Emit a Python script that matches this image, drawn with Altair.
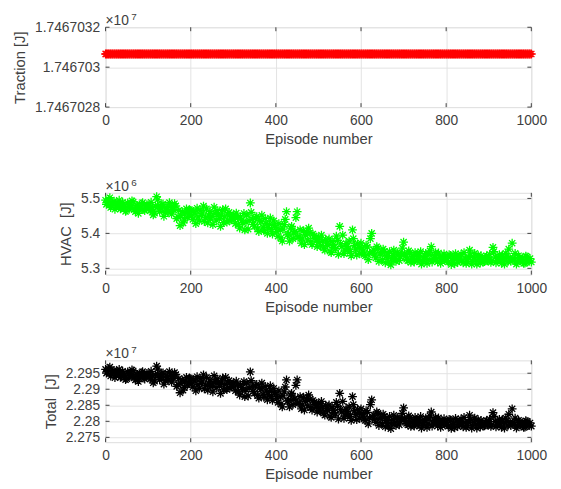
import altair as alt
import pandas as pd

# ---------------- data ----------------
episodes_a = list(range(0, 1001, 5))
episodes_b = list(range(2, 1000, 5))

# HVAC energy, units of 1e6 J, episodes 0,5,...,1000
hvac_a = [
    5.495, 5.488, 5.502, 5.480, 5.492, 5.476, 5.485, 5.470, 5.489, 5.478,
    5.466, 5.483, 5.474, 5.490, 5.462, 5.479, 5.471, 5.485, 5.468, 5.476,
    5.481, 5.465, 5.474, 5.458, 5.505, 5.477, 5.470, 5.484, 5.460, 5.472,
    5.488, 5.455, 5.468, 5.479, 5.447, 5.422, 5.462, 5.438, 5.470, 5.452,
    5.466, 5.440, 5.458, 5.472, 5.436, 5.452, 5.478, 5.445, 5.430, 5.462,
    5.449, 5.475, 5.438, 5.456, 5.420, 5.468, 5.447, 5.432, 5.460, 5.441,
    5.452, 5.428, 5.446, 5.415, 5.438, 5.457, 5.432, 5.412, 5.487, 5.440,
    5.421, 5.448, 5.405, 5.433, 5.418, 5.442, 5.400, 5.426, 5.411, 5.436,
    5.418, 5.392, 5.410, 5.378, 5.425, 5.462, 5.398, 5.415, 5.385, 5.405,
    5.462, 5.390, 5.372, 5.408, 5.395, 5.381, 5.402, 5.368, 5.393, 5.378,
    5.388, 5.365, 5.378, 5.352, 5.372, 5.384, 5.345, 5.368, 5.356, 5.380,
    5.420, 5.362, 5.342, 5.371, 5.355, 5.348, 5.410, 5.366, 5.338, 5.359,
    5.372, 5.350, 5.336, 5.361, 5.344, 5.400, 5.352, 5.330, 5.358, 5.341,
    5.325, 5.349, 5.335, 5.318, 5.310, 5.338, 5.328, 5.345, 5.322, 5.340,
    5.375, 5.335, 5.322, 5.344, 5.330, 5.318, 5.339, 5.326, 5.348, 5.321,
    5.335, 5.314, 5.340, 5.362, 5.328, 5.345, 5.319, 5.333, 5.324, 5.341,
    5.330, 5.318, 5.337, 5.322, 5.313, 5.334, 5.325, 5.340, 5.316, 5.329,
    5.320, 5.352, 5.312, 5.331, 5.324, 5.338, 5.315, 5.327, 5.319, 5.335,
    5.326, 5.317, 5.360, 5.332, 5.321, 5.339, 5.314, 5.328, 5.343, 5.319,
    5.331, 5.372, 5.324, 5.312, 5.336, 5.322, 5.329, 5.315, 5.333, 5.320,
    5.318,
]

# HVAC energy, units of 1e6 J, episodes 2,7,...,997
hvac_b = [
    5.483, 5.497, 5.474, 5.490, 5.469, 5.486, 5.495, 5.472, 5.481, 5.463,
    5.487, 5.475, 5.493, 5.468, 5.480, 5.457, 5.473, 5.488, 5.465, 5.482,
    5.470, 5.489, 5.453, 5.478, 5.496, 5.463, 5.482, 5.449, 5.474, 5.461,
    5.477, 5.468, 5.485, 5.442, 5.466, 5.451, 5.430, 5.459, 5.446, 5.468,
    5.450, 5.463, 5.428, 5.447, 5.466, 5.458, 5.434, 5.470, 5.452, 5.441,
    5.425, 5.457, 5.465, 5.443, 5.452, 5.431, 5.470, 5.455, 5.437, 5.449,
    5.440, 5.458, 5.425, 5.447, 5.431, 5.410, 5.452, 5.437, 5.460, 5.426,
    5.444, 5.413, 5.437, 5.452, 5.408, 5.428, 5.417, 5.444, 5.398, 5.423,
    5.405, 5.428, 5.387, 5.412, 5.440, 5.396, 5.378, 5.420, 5.401, 5.445,
    5.389, 5.410, 5.384, 5.368, 5.402, 5.415, 5.376, 5.398, 5.386, 5.362,
    5.374, 5.395, 5.358, 5.383, 5.366, 5.349, 5.377, 5.360, 5.392, 5.340,
    5.370, 5.395, 5.352, 5.363, 5.378, 5.336, 5.385, 5.355, 5.370, 5.343,
    5.358, 5.340, 5.366, 5.325, 5.385, 5.347, 5.338, 5.362, 5.320, 5.344,
    5.355, 5.316, 5.336, 5.348, 5.327, 5.352, 5.320, 5.341, 5.333, 5.358,
    5.342, 5.326, 5.350, 5.317, 5.333, 5.345, 5.322, 5.338, 5.312, 5.330,
    5.343, 5.325, 5.350, 5.318, 5.336, 5.327, 5.344, 5.314, 5.332, 5.322,
    5.323, 5.339, 5.311, 5.328, 5.342, 5.317, 5.333, 5.321, 5.345, 5.314,
    5.330, 5.338, 5.320, 5.343, 5.312, 5.326, 5.336, 5.318, 5.331, 5.322,
    5.340, 5.322, 5.348, 5.316, 5.330, 5.325, 5.338, 5.312, 5.334, 5.355,
    5.320, 5.329, 5.343, 5.318, 5.331, 5.324, 5.314, 5.335, 5.322, 5.328,
]

# Traction energy, units of 1e7 J (constant over all episodes)
traction_value = 1.746703066

x_ticks = [0, 200, 400, 600, 800, 1000]
traction_ticks = [1.7467028, 1.7467030, 1.7467032]
hvac_ticks = [5.3, 5.4, 5.5]
total_ticks = [2.275, 2.28, 2.285, 2.29, 2.295]

episodes = episodes_a + episodes_b
hvac = hvac_a + hvac_b
traction = [traction_value] * len(episodes)
df = pd.DataFrame({"episode": episodes, "traction": traction, "hvac": hvac})

# ---------------- styling ----------------
W = 432
FONT = "Liberation Sans"
TXT = "#404040"
BOX = "#404040"
GRID = "#e3e3e3"
STAR = "M-1,0L1,0M0,-1L0,1M-0.7,-0.7L0.7,0.7M-0.7,0.7L0.7,-0.7"


def panel(field, color, ydom, yticks, yfmt, ytitle, exponent, H, calc=None):
    xs = alt.Scale(domain=[0, 1000], nice=False, zero=False)
    ys = alt.Scale(domain=ydom, nice=False, zero=False)
    xax = alt.Axis(values=x_ticks, format="d", title="Episode number", grid=True,
                   gridColor=GRID, tickSize=0, domain=False, labelPadding=7,
                   titlePadding=4, labelFontSize=14, titleFontSize=15,
                   labelColor=TXT, titleColor=TXT, labelFont=FONT, titleFont=FONT,
                   titleFontWeight="normal", labelFlush=False)
    yax = alt.Axis(values=yticks, format=yfmt, title=ytitle, grid=True, gridColor=GRID,
                   tickSize=0, domain=False, labelPadding=6, titlePadding=7,
                   labelFontSize=14, titleFontSize=15, labelColor=TXT, titleColor=TXT,
                   labelFont=FONT, titleFont=FONT, titleFontWeight="normal",
                   labelFlush=False)

    base = alt.Chart(df)
    if calc is not None:
        base = base.transform_calculate(**{field: calc})
    pts = base.mark_point(shape=STAR, filled=False, size=80, strokeWidth=1.3,
                          color=color, opacity=1).encode(
        x=alt.X("episode:Q", scale=xs, axis=xax),
        y=alt.Y(f"{field}:Q", scale=ys, axis=yax),
    )

    xt = alt.Chart(pd.DataFrame({"episode": x_ticks}))
    yt = alt.Chart(pd.DataFrame({field: yticks}))
    xenc = alt.X("episode:Q", scale=xs, axis=xax)
    yenc = alt.Y(f"{field}:Q", scale=ys, axis=yax)
    tb = xt.mark_rule(color=BOX, strokeWidth=1).encode(x=xenc, y=alt.value(H), y2=alt.value(H - 4))
    tt = xt.mark_rule(color=BOX, strokeWidth=1).encode(x=xenc, y=alt.value(0), y2=alt.value(4))
    tl = yt.mark_rule(color=BOX, strokeWidth=1).encode(y=yenc, x=alt.value(0), x2=alt.value(4))
    tr = yt.mark_rule(color=BOX, strokeWidth=1).encode(y=yenc, x=alt.value(W), x2=alt.value(W - 4))

    t1 = alt.Chart(pd.DataFrame({"t": ["×10"]})).mark_text(
        align="left", baseline="alphabetic", fontSize=14, font=FONT, color=TXT
    ).encode(x=alt.value(0), y=alt.value(-2), text="t:N")
    t2 = alt.Chart(pd.DataFrame({"t": [exponent]})).mark_text(
        align="left", baseline="alphabetic", fontSize=10, font=FONT, color=TXT
    ).encode(x=alt.value(26), y=alt.value(-7), text="t:N")

    return alt.layer(tb, tt, tl, tr, pts, t1, t2).properties(width=W, height=H)


p1 = panel("traction", "#ff0000", [1.7467028, 1.7467032], traction_ticks, ".8~g",
           "Traction [J]", "7", 81)
p2 = panel("hvac", "#00ff00", [5.282, 5.516], hvac_ticks, ".1f",
           "HVAC\u00a0\u00a0[J]", "6", 83)
p3 = panel("total", "#000000", [2.2735, 2.2990], total_ticks, ".4~g",
           "Total\u00a0\u00a0[J]", "7", 83, calc="datum.traction + datum.hvac / 10")

chart = alt.vconcat(p1, p2, p3, spacing=87, bounds="flush").configure_view(
    stroke=BOX, strokeWidth=1
).configure(padding={"left": 4, "top": 0, "right": 5, "bottom": 5}, background="white")

chart.save("out.html", embed_options={"renderer": "svg", "actions": False})
